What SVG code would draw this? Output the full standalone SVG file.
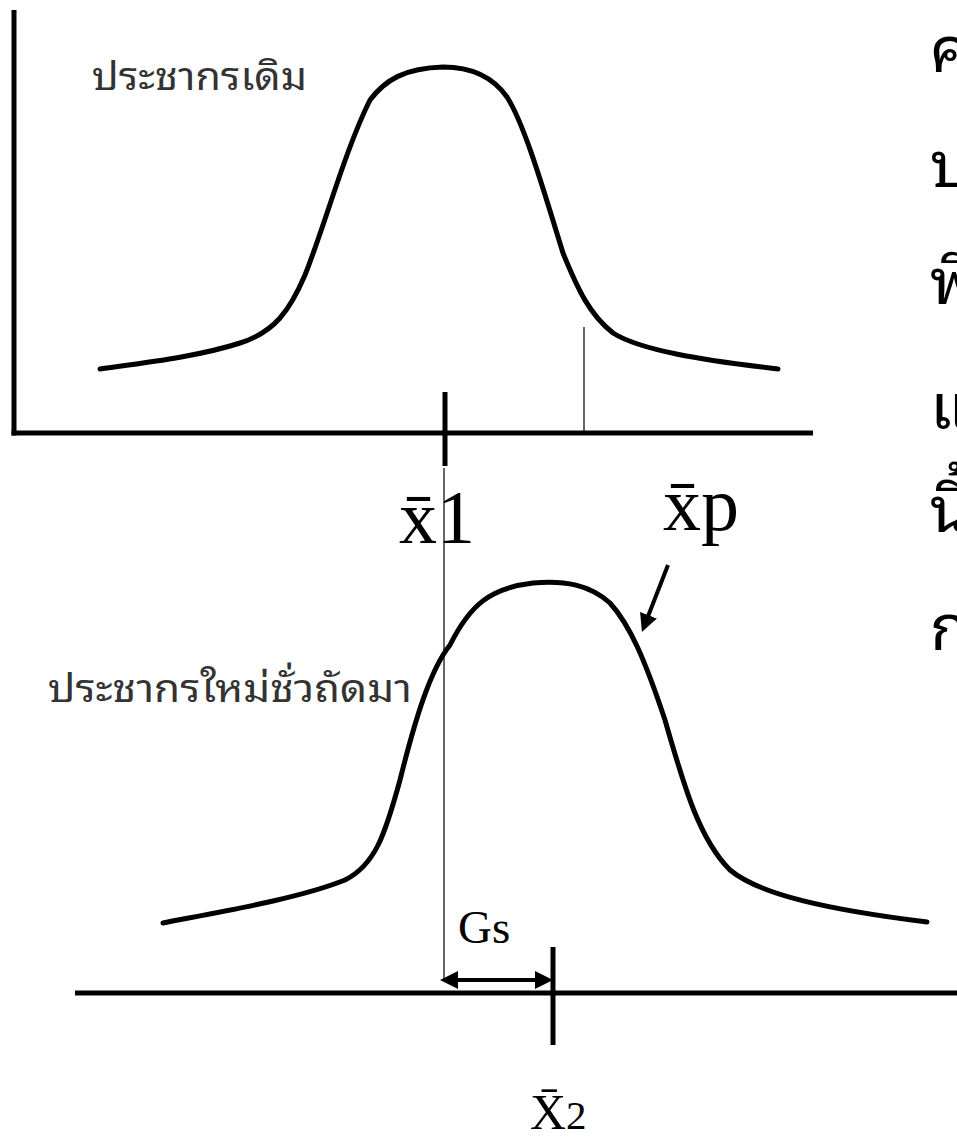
<svg xmlns="http://www.w3.org/2000/svg" width="957" height="1140" viewBox="0 0 957 1140">
<style>
.ax{stroke:#000;stroke-width:5;fill:none}
.thin{stroke:#000;stroke-width:1.2;fill:none}
.curve{stroke:#000;stroke-width:5;fill:none;stroke-linejoin:round;stroke-linecap:round}
.th{font-family:"Noto Sans Thai Looped","Loma","Garuda","Waree","Norasi","Tahoma","Noto Sans Thai","Noto Sans",sans-serif;fill:#000}
.lbl{fill:#333}
.sym{font-family:"Liberation Serif","DejaVu Serif",serif;fill:#000}
.arr{stroke:#000;stroke-width:4;fill:none}
</style>
<defs>
<marker id="head" viewBox="0 0 18 18" refX="6" refY="9" markerWidth="18" markerHeight="18" markerUnits="userSpaceOnUse" orient="auto-start-reverse">
<path d="M0,0 L18,9 L0,18 Z" fill="#000"/>
</marker>
</defs>
<g id="top-chart">
<line class="ax" x1="14" y1="10" x2="14" y2="435.5"/>
<line class="ax" x1="11.5" y1="433" x2="813" y2="433"/>
<line class="ax" x1="445" y1="392" x2="445" y2="466"/>
<line class="thin" x1="584" y1="327" x2="584" y2="433"/>
<path class="curve" d="M100,369 C150,362 200,356 240,343 C275,332 290,310 305,275 C325,225 345,150 370,100 C385,80 405,68 443,67 C475,67 495,80 507,97 C525,125 545,195 563,253 C578,290 590,315 613,333 C640,350 700,360 778,369"/>
<text class="th lbl" x="92" y="90" font-size="38" textLength="215" lengthAdjust="spacingAndGlyphs">ประชากรเดิม</text>
</g>
<g id="bottom-chart">
<line class="ax" x1="75" y1="993" x2="957" y2="993"/>
<line class="ax" x1="553" y1="947" x2="553" y2="1045"/>
<path class="curve" d="M163,923 C230,910 300,898 345,880 C375,865 385,835 400,780 C415,720 430,670 450,645 C470,605 490,588 533,583 C565,580 590,585 610,603 C630,625 645,660 665,720 C685,790 700,840 730,870 C760,895 830,910 927,922"/>
<text class="th lbl" x="48" y="702" font-size="38" textLength="364" lengthAdjust="spacingAndGlyphs">ประชากรใหม่ชั่วถัดมา</text>
</g>
<g id="connectors">
<line class="thin" x1="444" y1="468" x2="444" y2="980"/>
<line class="arr" x1="452" y1="980" x2="541" y2="980" marker-start="url(#head)" marker-end="url(#head)"/>
<line class="arr" x1="668" y1="565" x2="646.3" y2="620.8" stroke-width="5" marker-end="url(#head)"/>
</g>
<g id="labels">
<text class="sym" x="399" y="543" font-size="76">x̄1</text>
<text class="sym" x="663" y="530" font-size="76">x̄p</text>
<text class="sym" x="458" y="943" font-size="47">Gs</text>
<text class="sym" x="530" y="1129"><tspan font-size="50">X̄</tspan><tspan font-size="41">2</tspan></text>
</g>
<g id="side-text" class="th" font-size="64">
<text x="930" y="72">ค่</text>
<text x="930" y="187">บ</text>
<text x="930" y="304">พื</text>
<text x="930" y="429">แ</text>
<text x="930" y="532">นี้</text>
<text x="930" y="650">ก</text>
</g>
</svg>
